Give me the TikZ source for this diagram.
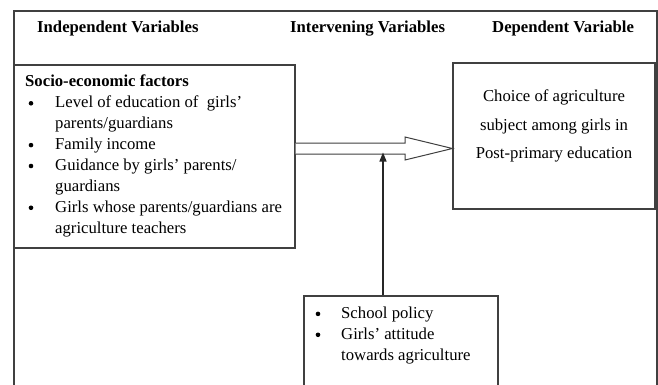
\documentclass[tikz,border=0pt]{standalone}
\usepackage{fontspec}
\setmainfont{Liberation Serif}
\usetikzlibrary{arrows.meta}
\tikzset{
  boxline/.style={draw=black!75, line width=1.1pt},
  vbox/.style={boxline, rectangle, inner sep=0pt},
  txt/.style={anchor=base west, inner sep=0pt, font=\fontsize{16.7}{20.9}\selectfont},
  hdr/.style={txt, font=\fontsize{16.7}{20.9}\selectfont\bfseries},
}
\newcommand{\bigdot}{\raisebox{0.3ex}{\tikz\fill[black] (0,0) circle (2.3pt);}}
\begin{document}
\begin{tikzpicture}[x=1pt,y=-1pt]
\clip (0,0) rectangle (658,385);
\fill[white] (0,0) rectangle (658,385);
% outer frame
\coordinate (fbl) at (14,400);
\coordinate (ftl) at (14,11);
\coordinate (ftr) at (657,11);
\coordinate (fbr) at (657,400);
\draw[boxline] (fbl) -- (ftl) -- (ftr) -- (fbr);
% headers
\node[hdr] (h1) at (37,33) {Independent Variables};
\node[hdr] (h2) at (290,33) {Intervening Variables};
\node[hdr] (h3) at (492,33) {Dependent Variable};
% boxes
\node[vbox, minimum width=281pt, minimum height=183pt] (lbox) at (154.5,156.5) {};
\node[vbox, minimum width=202pt, minimum height=146pt] (rbox) at (554,136) {};
\node[vbox, minimum width=194pt, minimum height=104pt] (bbox) at (401,348) {};
% left box text
\node[txt] (lt) at (25,87) {\renewcommand{\arraystretch}{1}%
\begin{tabular}[t]{@{}p{30pt}@{}l@{}}
\multicolumn{2}{@{}l@{}}{\bfseries Socio-economic factors}\\
\hspace{3.5pt}\bigdot & Level of education of\ \ girls'\\
 & parents/guardians\\
\hspace{3.5pt}\bigdot & Family income\\
\hspace{3.5pt}\bigdot & Guidance by girls' parents/\\
 & guardians\\
\hspace{3.5pt}\bigdot & Girls whose parents/guardians are\\
 & agriculture teachers
\end{tabular}};
% right box text
\node[anchor=base, inner sep=0pt, font=\fontsize{16.7}{28.5}\selectfont, align=center] (rt) at (554,158.5)
 {Choice of agriculture\\ subject among girls in\\ Post-primary education};
% bottom box text
\node[txt] (bt) at (315.5,318.5) {\renewcommand{\arraystretch}{1}%
\begin{tabular}[t]{@{}p{25.5pt}@{}l@{}}
\bigdot & School policy\\
\bigdot & Girls' attitude\\
 & towards agriculture
\end{tabular}};
% double (hollow) arrow
\coordinate (s) at (lbox.east |- 0,148.5);
\coordinate (tip) at (rbox.west |- s);
\coordinate (hb) at (405,148.5);
\draw[black!75, line width=1pt, line join=miter, fill=white]
  ([yshift=-5.5pt]s) -- ([yshift=-5.5pt]hb) -- ([yshift=-11.5pt]hb) -- (tip)
  -- ([yshift=11.5pt]hb) -- ([yshift=5.5pt]hb) -- ([yshift=5.5pt]s);
% vertical arrow
\coordinate (vt) at (383,152.5);
\draw[black!85, line width=1.3pt, -{Triangle[length=9pt,width=7pt]}] (vt |- bbox.north) -- (vt);
\end{tikzpicture}
\end{document}
